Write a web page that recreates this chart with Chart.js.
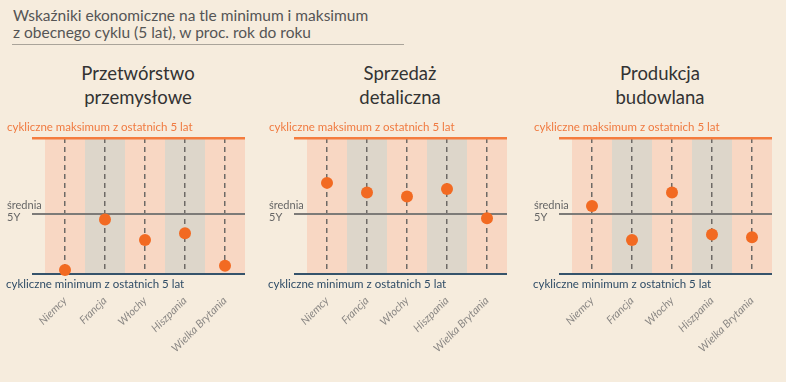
<!DOCTYPE html>
<html><head><meta charset="utf-8">
<script src="https://cdn.jsdelivr.net/npm/chart.js@4"></script>
<style>
html,body{margin:0;padding:0;background:#f6ecdd;width:786px;height:382px;overflow:hidden;font-family:Lato,"Noto Sans",sans-serif}
.wrap{position:relative;width:786px;height:382px}
canvas{position:absolute;top:0}
.main{position:absolute;left:13px;top:7px;width:391px;font-size:15.5px;line-height:17px;color:#555;border-bottom:1px solid #aaa49a;padding-bottom:3px;margin-left:-1px;padding-left:1px}
.pt{position:absolute;top:61px;width:240px;font-size:18.5px;line-height:24px;color:#333;text-align:center}
</style></head>
<body><div class="wrap">
<div class="main">Wskaźniki ekonomiczne na tle minimum i maksimum<br>z obecnego cyklu (5 lat), w proc. rok do roku</div>
<div class="pt" id="t0" style="left:18px"></div>
<div class="pt" id="t1" style="left:280px"></div>
<div class="pt" id="t2" style="left:540px"></div>
<canvas id="c0" width="262" height="382" style="left:0px;width:262px;height:382px"></canvas>
<canvas id="c1" width="262" height="382" style="left:262px;width:262px;height:382px"></canvas>
<canvas id="c2" width="262" height="382" style="left:527px;width:262px;height:382px"></canvas>
</div>
<script>
// categories
const categories = ['Niemcy','Francja','Włochy','Hiszpania','Wielka Brytania'];
// panel titles
const panelTitles = [['Przetwórstwo','przemysłowe'],['Sprzedaż','detaliczna'],['Produkcja','budowlana']];
// values positioned between cycle minimum (0) and cycle maximum (100)
const przetworstwo = [3, 40, 25, 30, 6];
const sprzedaz = [67, 60, 57, 62.5, 41];
const budowlana = [50, 25, 60, 29, 27];
const panelValues = [przetworstwo, sprzedaz, budowlana];
// reference levels
const cycleMin = 0;
const mean5Y = 44;
const cycleMax = 100;
const maxLabel = 'cykliczne maksimum z ostatnich 5 lat';
const minLabel = 'cykliczne minimum z ostatnich 5 lat';
const meanLabel = ['średnia', '5Y'];

const FONT = 'Lato, "Noto Sans", sans-serif';

const columnsPlugin = {
  id: 'columns',
  beforeDraw(chart) {
    const {ctx, chartArea: a, scales: {x}} = chart;
    const w = x.getPixelForValue(1) - x.getPixelForValue(0);
    ctx.save();
    categories.forEach((c, i) => {
      const cx = x.getPixelForValue(i);
      ctx.fillStyle = i % 2 ? '#ddd6ca' : '#f8d7c3';
      ctx.fillRect(cx - w / 2, a.top, w, a.bottom - a.top);
    });
    ctx.restore();
  }
};

const labelsPlugin = {
  id: 'levelLabels',
  afterDraw(chart) {
    const {ctx, chartArea: a, scales: {y}} = chart;
    const lx = a.left - 38;
    ctx.save();
    ctx.textAlign = 'left';
    ctx.textBaseline = 'middle';
    ctx.font = '11.5px ' + FONT;
    ctx.fillStyle = '#f07a40';
    ctx.fillText(maxLabel, lx, y.getPixelForValue(cycleMax) - 11);
    ctx.fillStyle = '#2f4c66';
    ctx.fillText(minLabel, lx - 1, y.getPixelForValue(cycleMin) + 10);
    ctx.fillStyle = '#666';
    ctx.font = '11px ' + FONT;
    const my = y.getPixelForValue(mean5Y);
    ctx.fillText(meanLabel[0], lx, my - 9);
    ctx.fillText(meanLabel[1], lx, my + 3);
    ctx.restore();
  }
};

const levelColor = v => v === cycleMax ? '#f47c3e' : (v === mean5Y ? '#7d7b78' : '#35536b');
const levelWidth = v => v === cycleMax ? 2.5 : 2;

panelValues.forEach((vals, p) => {
  document.getElementById('t' + p).innerHTML = panelTitles[p].join('<br>');
  new Chart(document.getElementById('c' + p), {
    type: 'line',
    data: {
      labels: categories,
      datasets: [{
        data: vals,
        showLine: false,
        pointRadius: 6,
        pointHoverRadius: 6,
        pointBackgroundColor: '#f26a22',
        pointBorderWidth: 0,
        clip: false
      }]
    },
    options: {
      responsive: false,
      animation: false,
      events: [],
      layout: {padding: {left: 32, right: 17, top: 138, bottom: 0}},
      plugins: {legend: {display: false}, tooltip: {enabled: false}},
      scales: {
        x: {
          type: 'category',
          offset: true,
          afterFit: s => { s.height = 108; },
          grid: {display: true, drawTicks: false, color: '#6e6a66', lineWidth: 1.5, offset: false},
          border: {display: false, dash: [5, 4]},
          ticks: {
            autoSkip: false, minRotation: 45, maxRotation: 45, padding: 20,
            color: '#8a8784',
            font: {family: FONT, size: 11, style: 'italic'}
          }
        },
        y: {
          type: 'linear',
          min: cycleMin, max: cycleMax,
          position: 'left',
          afterFit: s => { s.width = 13; },
          afterBuildTicks: s => { s.ticks = [{value: cycleMin}, {value: mean5Y}, {value: cycleMax}]; },
          ticks: {display: false},
          border: {display: false},
          grid: {
            drawTicks: true, tickLength: 13,
            color: c => levelColor(c.tick.value),
            lineWidth: c => levelWidth(c.tick.value)
          }
        }
      }
    },
    plugins: [columnsPlugin, labelsPlugin]
  });
});
</script>
</body></html>
